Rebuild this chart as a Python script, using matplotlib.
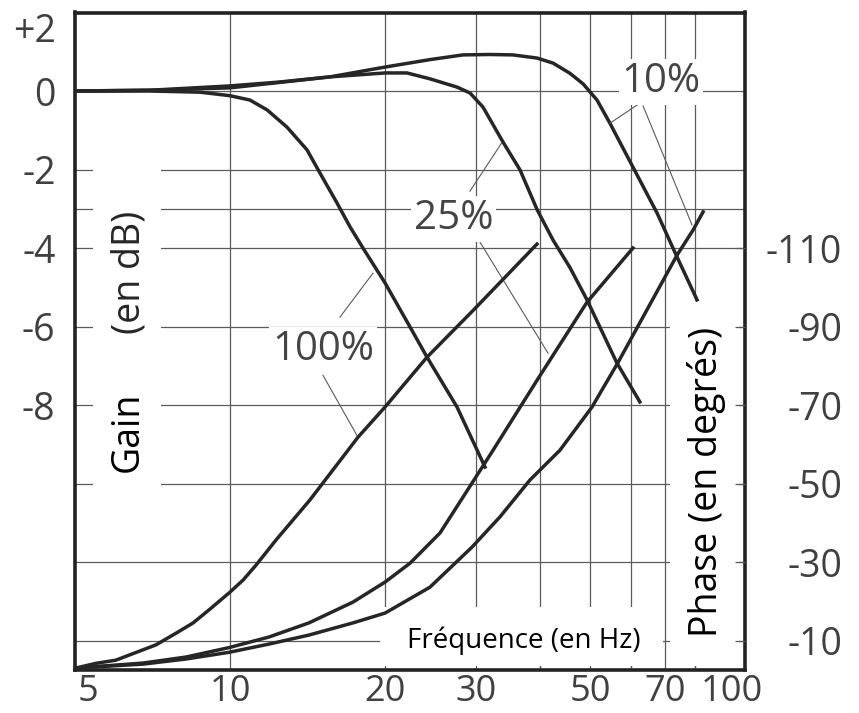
import matplotlib
matplotlib.use("Agg")
import matplotlib.pyplot as plt
import matplotlib.transforms as mtransforms
from matplotlib.patches import Rectangle

plt.rcParams['font.family'] = ['Open Sans', 'DejaVu Sans']

## Gain curves (frequency in Hz, gain in dB)
f_gain_100 = [5, 7, 8.74, 9.43, 10, 10.93, 11.8, 12.9, 14.11, 14.95, 16.13, 17.1, 18.12,
              20, 22.36, 24.13, 27.59, 31.27]
gain_100 = [0, 0, -0.03, -0.08, -0.12, -0.23, -0.48, -0.92, -1.5, -2.09, -2.85, -3.46, -4.0,
            -4.89, -6.01, -6.78, -8.05, -9.58]

f_gain_25 = [5, 7, 10, 15.64, 20, 22.06, 24.45, 27.59, 29.24, 30.99, 33.89, 36.57, 39.5,
             42.4, 45.73, 49.34, 56.4, 62.5]
gain_25 = [0, 0.02, 0.08, 0.36, 0.46, 0.46, 0.31, 0.10, -0.05, -0.41, -1.3, -2.01, -3.03,
           -3.8, -4.5, -5.32, -6.93, -7.92]

f_gain_10 = [5, 7, 10, 12.5, 15.64, 20, 24.45, 28.34, 31.98, 35.4, 39.45, 42.4, 45.73, 48.5,
             51.6, 54.66, 60.6, 67.5, 73.8, 80.7]
gain_10 = [0, 0.02, 0.13, 0.23, 0.36, 0.61, 0.8, 0.92, 0.93, 0.92, 0.84, 0.71, 0.45, 0.18,
           -0.23, -0.82, -1.94, -3.11, -4.23, -5.32]

## Phase curves (frequency in Hz, phase in degrees)
f_phase_100 = [5.02, 5.49, 6.0, 7.18, 7.86, 8.48, 9.1, 9.95, 10.6, 11.23, 12.28, 14.29, 17.72,
               20.0, 24.13, 29.7, 39.45]
phase_100 = [-3.0, -4.2, -5.0, -8.9, -11.9, -14.5, -17.8, -22.1, -25.4, -29.2, -35.6, -45.8,
             -61.8, -69.5, -82.2, -94.2, -111.0]

f_phase_25 = [5.02, 6.78, 8.21, 9.95, 11.9, 14.23, 17.33, 20.0, 22.36, 25.57, 29.5,
              32.42, 39.5, 49.34, 60.6]
phase_25 = [-3.0, -4.27, -5.8, -8.2, -10.9, -14.5, -19.8, -24.9, -29.7, -37.4, -50.1,
            -58.5, -76.4, -96.2, -110.0]

f_phase_10 = [5.02, 6.78, 8.21, 9.95, 11.9, 14.23, 17.33, 20.0, 24.45, 29.5, 33.43, 38.23,
              43.72, 50.46, 56.6, 73.8, 79.3, 82.9]
phase_10 = [-3.0, -4.0, -5.3, -7.0, -9.1, -11.4, -14.5, -17.0, -23.6, -33.8, -41.5, -50.9,
            -58.5, -69.5, -80.7, -108.2, -114.6, -119.2]

## Axis ticks and labels
freq_ticks = [5, 10, 20, 30, 50, 70, 100]
freq_grid = [10, 20, 30, 40, 50, 60, 70, 80]
gain_ticks = [2, 0, -2, -4, -6, -8]
gain_tick_labels = ['+2', '0', '-2', '-4', '-6', '-8']
gain_grid = [0, -2, -3, -4, -6, -8, -10, -12, -14]
phase_ticks = [-110, -90, -70, -50, -30, -10]

## Curve labels: text, text position, leader lines (freq, gain)
pct_labels = ['100%', '25%', '10%']
pct_pos = [(15.15, -6.6), (27.2, -3.26), (68.7, 0.23)]
pct_leaders = [
    [((16.35, -5.76), (18.95, -4.64)), ((15.15, -7.24), (17.72, -8.82))],
    [((29.24, -2.55), (33.7, -1.32)), ((30.58, -3.85), (41.45, -6.68))],
    [((61.7, -0.36), (54.66, -0.82)), ((63.4, -0.38), (78.9, -3.41))],
]

ink = '#262626'
grid_col = '#5a5a5a'
tick_col = '#404040'

fig = plt.figure(figsize=(8.59, 7.13), dpi=100)
ax = fig.add_axes([75 / 859, 43 / 713, 670 / 859, 657.5 / 713])
ax.set_xscale('log')
ax.set_xlim(5, 100)
ax.set_ylim(-14.75, 2)

for f in freq_grid:
    ax.axvline(f, color=grid_col, lw=0.9, zorder=1)
for g in gain_grid:
    ax.axhline(g, color=grid_col, lw=0.9, zorder=1)

# white areas behind the axis titles
for x0, y0, w, h in [(0.027, 0.25, 0.101, 0.55),
                     (0.455, 0.006, 0.422, 0.09),
                     (0.888, 0.006, 0.103, 0.555)]:
    ax.add_patch(Rectangle((x0, y0), w, h, transform=ax.transAxes,
                           facecolor='white', edgecolor='none', zorder=2))

ax.plot(f_gain_100, gain_100, color=ink, lw=2.5, zorder=3)
ax.plot(f_gain_25, gain_25, color=ink, lw=2.5, zorder=3)
ax.plot(f_gain_10, gain_10, color=ink, lw=2.5, zorder=3)

for lab, pos, leaders in zip(pct_labels, pct_pos, pct_leaders):
    ax.text(pos[0], pos[1], lab, fontsize=29, color='#444444', ha='center', va='center',
            zorder=4, bbox=dict(facecolor='white', edgecolor='none', pad=2))
    for p0, p1 in leaders:
        ax.plot([p0[0], p1[0]], [p0[1], p1[1]], color=grid_col, lw=0.8, zorder=3)

ax.text(0.078, 0.362, 'Gain', transform=ax.transAxes, rotation=90, fontsize=27,
        color='black', ha='center', va='center', zorder=4)
ax.text(0.082, 0.605, '(en dB)', transform=ax.transAxes, rotation=90, fontsize=27,
        color=ink, ha='center', va='center', zorder=4)
ax.text(0.67, 0.044, 'Fréquence (en Hz)', transform=ax.transAxes, fontsize=20,
        color='black', ha='center', va='center', zorder=4)
ax.text(0.942, 0.286, 'Phase (en degrés)', transform=ax.transAxes, rotation=90, fontsize=27,
        color='black', ha='center', va='center', zorder=4)

ax.set_xticks(freq_ticks)
ax.set_xticklabels([str(v) for v in freq_ticks])
ax.set_xticks(freq_grid, minor=True)
ax.set_xticklabels([], minor=True)
ax.set_yticks(gain_ticks)
ax.set_yticklabels(gain_tick_labels)
ax.tick_params(axis='x', which='major', length=0, pad=3, labelsize=26, labelcolor=tick_col)
ax.tick_params(axis='x', which='minor', direction='in', length=7, width=0.9, color=grid_col)
ax.tick_params(axis='y', which='major', length=0, pad=14, labelsize=27, labelcolor=tick_col)
ax.yaxis.set_minor_locator(matplotlib.ticker.NullLocator())

xlabs = ax.get_xticklabels()
xlabs[0].set_transform(xlabs[0].get_transform() +
                       mtransforms.ScaledTranslation(13 / 100, 0, fig.dpi_scale_trans))
xlabs[-1].set_transform(xlabs[-1].get_transform() +
                        mtransforms.ScaledTranslation(-13 / 100, 0, fig.dpi_scale_trans))
ax.get_yticklabels()[0].set_va('top')

for s in ax.spines.values():
    s.set_linewidth(2.6)
    s.set_color('#222222')

## Phase axis on the right
ax2 = ax.twinx()
ax2.set_ylim(-2.5, -170)
ax2.plot(f_phase_100, phase_100, color=ink, lw=2.5)
ax2.plot(f_phase_25, phase_25, color=ink, lw=2.5)
ax2.plot(f_phase_10, phase_10, color=ink, lw=2.5)
ax2.set_yticks(phase_ticks)
ax2.set_yticklabels([str(v) for v in phase_ticks])
ax2.yaxis.set_minor_locator(matplotlib.ticker.NullLocator())
ax2.tick_params(axis='y', direction='in', length=7, width=0.9, color=grid_col,
                pad=70, labelsize=27, labelcolor=tick_col)
for lab in ax2.get_yticklabels():
    lab.set_ha('right')
for s in ax2.spines.values():
    s.set_visible(False)

fig.savefig('out.png', dpi=100)
